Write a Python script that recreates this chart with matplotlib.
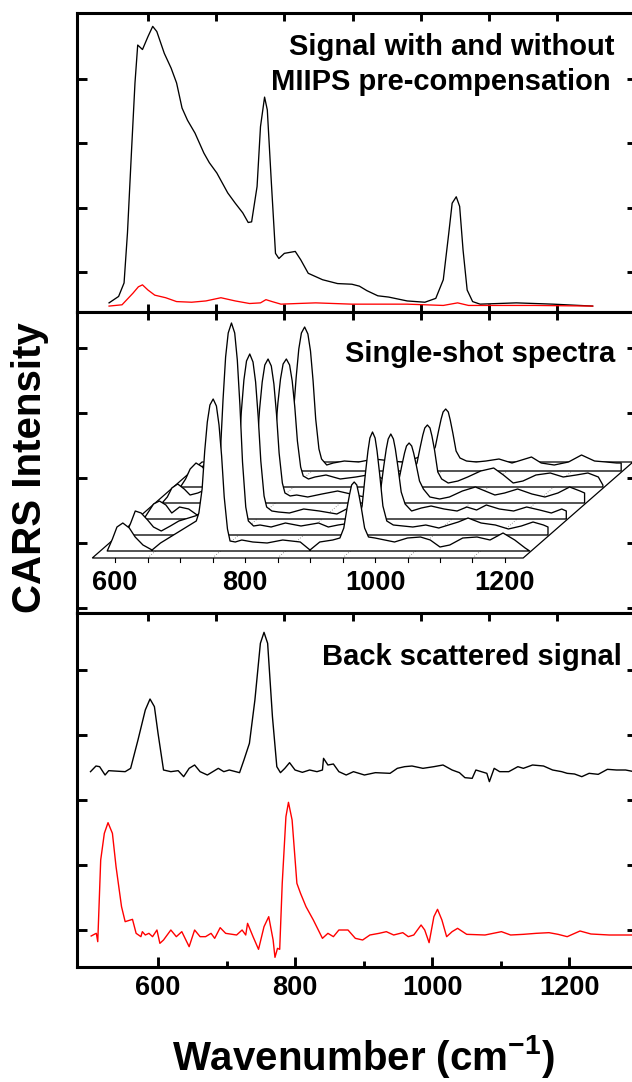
import numpy as np
import matplotlib
matplotlib.use('Agg')
from matplotlib import pyplot as plt
from matplotlib.patches import Polygon

plt.rcParams['font.family'] = ['Liberation Sans', 'DejaVu Sans']
plt.rcParams['font.weight'] = 'bold'
plt.rcParams['mathtext.fontset'] = 'custom'
plt.rcParams['mathtext.rm'] = 'Liberation Sans:bold'
plt.rcParams['mathtext.bf'] = 'Liberation Sans:bold'
plt.rcParams['mathtext.default'] = 'rm'

# top panel: with / without MIIPS
wn_miips = [543, 557, 565, 570, 576, 581, 585, 592, 600, 607, 613, 624, 634, 642, 650, 658, 669, 682, 690, 701,
            717, 728, 739, 747, 752, 760, 765, 771, 775, 781, 787, 792, 800, 816, 824, 835, 856, 878, 899, 910,
            921, 937, 953, 980, 1006, 1022, 1033, 1041, 1046, 1052, 1057, 1062, 1068, 1076, 1087, 1140, 1194, 1252]
int_miips = [0.52, 0.62, 0.83, 1.61, 2.90, 3.94, 4.53, 4.46, 4.66, 4.82, 4.74, 4.40, 4.17, 3.94, 3.55, 3.36, 3.16, 2.85, 2.70, 2.54,
             2.23, 2.07, 1.92, 1.77, 1.78, 2.33, 3.26, 3.72, 3.52, 2.38, 1.29, 1.21, 1.29, 1.32, 1.19, 0.98, 0.88, 0.82, 0.81, 0.78,
             0.71, 0.63, 0.61, 0.55, 0.53, 0.59, 0.88, 1.60, 2.07, 2.17, 2.02, 1.34, 0.72, 0.54, 0.50, 0.52, 0.50, 0.47]
wn_nomiips = [543, 562, 578, 586, 592, 600, 610, 626, 642, 664, 685, 707, 728, 749, 765, 773, 782, 795, 819, 846,
              899, 980, 1033, 1054, 1070, 1167, 1252]
int_nomiips = [0.47, 0.49, 0.67, 0.77, 0.80, 0.72, 0.64, 0.60, 0.54, 0.53, 0.55, 0.60, 0.55, 0.51, 0.52, 0.57, 0.54, 0.50, 0.51, 0.52,
               0.50, 0.50, 0.48, 0.52, 0.48, 0.48, 0.47]

# middle panel: single-shot spectra (6 shots, front to back)
wn_shot = [588, 596, 603, 612, 622, 631, 643, 657, 670, 685, 700, 715, 725, 729, 734, 738, 742, 746, 751, 756,
           760, 764, 768, 773, 777, 785, 795, 812, 834, 858, 885, 900, 915, 935, 946, 952, 957, 961, 964, 968,
           972, 975, 979, 984, 990, 1000, 1015, 1030, 1050, 1070, 1085, 1100, 1115, 1135, 1157, 1177, 1197, 1215, 1231, 1238]
shot1 = [0, 12, 24, 28, 23, 14, 6, 1, 8, 14, 20, 26,
         30, 38, 62, 100, 129, 146, 152, 145, 126, 95, 54, 22, 10,
         9, 11, 9, 8, 11, 9, 1, 9, 11,
         13, 23, 43, 57, 66, 69, 66, 57, 43, 23, 14,
         13, 11, 9, 13, 14, 11, 4, 6, 13, 14, 11, 18, 11, 3, 0]
shot2 = [0, 12, 24, 22, 15, 8, 4, 9, 14, 17, 20, 22,
         28, 41, 83, 135, 178, 202, 212, 202, 175, 130, 73, 28, 14,
         9, 10, 8, 12, 9, 12, 8, 10, 12,
         14, 29, 61, 84, 97, 103, 97, 84, 61, 29, 14,
         10, 9, 8, 10, 7, 10, 13, 17, 12, 10, 6, 9, 13, 10, 8]
shot3 = [0, 8, 15, 18, 14, 6, 12, 10, 4, 10, 16, 20,
         24, 34, 66, 107, 139, 158, 165, 157, 137, 102, 58, 23, 12,
         8, 7, 6, 10, 8, 5, 10, 12, 14,
         15, 27, 52, 70, 80, 85, 80, 70, 52, 27, 15,
         8, 11, 13, 10, 8, 12, 9, 14, 10, 8, 12, 9, 6, 10, 8]
shot4 = [0, 6, 15, 19, 14, 8, 10, 14, 8, 6, 14, 18,
         22, 31, 58, 94, 121, 138, 144, 137, 119, 89, 50, 20, 10,
         7, 8, 6, 9, 12, 8, 6, 10, 14,
         14, 22, 38, 50, 57, 60, 57, 50, 38, 22, 14,
         6, 4, 6, 12, 16, 12, 8, 10, 14, 9, 6, 10, 16, 12, 10]
shot5 = [0, 8, 18, 24, 20, 12, 8, 12, 16, 10, 14, 18,
         21, 29, 53, 84, 108, 123, 128, 122, 106, 80, 46, 20, 11,
         8, 10, 12, 8, 10, 13, 8, 10, 16,
         16, 24, 40, 52, 59, 62, 59, 51, 37, 15, 8,
         4, 6, 10, 16, 19, 12, 4, 6, 12, 14, 10, 12, 14, 10, 2]
shot6 = [0, 6, 14, 20, 18, 10, 8, 10, 14, 12, 16, 20,
         24, 32, 60, 94, 122, 138, 144, 137, 120, 90, 52, 22, 12,
         6, 8, 10, 9, 12, 10, 9, 11, 16,
         16, 24, 40, 52, 59, 62, 59, 51, 38, 20, 13,
         10, 9, 10, 12, 8, 11, 14, 8, 6, 9, 16, 10, 9, 8, 8]
shots = [shot1, shot2, shot3, shot4, shot5, shot6]
shot_dx, shot_dy = 28.15, 16
floor_ticks = [600, 800, 1000, 1200]

# bottom panel: back scattered
wn_back = [501.4, 509.4, 514.7, 522.7, 528.0, 552.0, 560.0, 570.7, 581.4, 588.3, 594.7, 600.0, 608.0, 618.7, 629.4, 637.4,
           645.4, 653.4, 661.4, 672.0, 688.0, 696.0, 704.0, 719.0, 725.4, 733.4, 741.4, 749.4, 754.7, 760.0, 767.0, 773.4,
           778.7, 785.1, 792.0, 800.0, 810.7, 821.3, 832.0, 840.0, 841.6, 848.0, 856.0, 864.0, 874.7, 885.3, 901.3, 917.3,
           938.7, 949.3, 960.0, 970.7, 986.7, 1002.7, 1016.0, 1029.3, 1040.0, 1048.0, 1058.6, 1064.0, 1072.0, 1080.0,
           1083.7, 1090.7, 1098.7, 1112.0, 1125.3, 1133.3, 1146.7, 1162.7, 1176.0, 1189.3, 1197.3, 1208.0, 1218.6,
           1229.3, 1242.6, 1256.0, 1269.3, 1282.6, 1294.9]
int_back = [475, 492, 490, 465, 478, 475, 485, 570, 660, 693, 670, 590, 480, 475, 478, 460,
            485, 495, 475, 465, 485, 475, 480, 472, 510, 560, 690, 860, 893, 860, 640, 490,
            472, 485, 502, 480, 473, 480, 475, 480, 515, 495, 498, 475, 465, 475, 465, 472,
            470, 485, 490, 492, 485, 490, 495, 480, 472, 457, 455, 480, 475, 470,
            445, 485, 475, 475, 490, 485, 495, 492, 480, 475, 470, 468, 460,
            470, 467, 482, 480, 480, 475]
wn_back2 = [502.4, 507.8, 509.9, 512.0, 516.3, 521.6, 527.0, 533.4, 538.7, 546.7, 552.0,
            562.7, 568.0, 575.0, 577.1, 581.4, 586.7, 592.0, 598.4, 602.7,
            608.0, 618.7, 626.7, 634.7, 645.4, 653.4, 661.4, 669.4, 677.4, 682.7,
            690.7, 698.7, 714.7, 722.7, 728.0, 730.7, 738.7, 746.7, 754.7, 761.6,
            768.0, 770.7, 774.4, 777.6, 781.3, 786.7, 790.4, 795.7, 802.7, 808.0,
            816.0, 826.7, 840.0, 848.0, 856.0, 864.0, 877.3, 888.0, 898.7, 909.3,
            922.7, 933.3, 944.0, 957.3, 965.3, 973.3, 984.0, 989.3, 995.7, 1002.7,
            1008.0, 1014.4, 1021.3, 1029.3, 1037.3, 1050.6, 1077.3, 1101.3, 1114.7, 1133.3,
            1152.0, 1170.7, 1184.0, 1197.3, 1216.0, 1232.0, 1258.7, 1294.9]
int_back2 = [-18, -12, -10, -35, 210, 290, 322, 290, 190, 70, 25,
             32, -10, -20, -5, -15, -10, -20, 0, -40,
             -30, 0, -20, -5, -50, 0, -20, -20, -10, -25,
             7, -10, -15, 0, -15, 20, -20, -58, 10, 40,
             -30, -82, -55, -58, 140, 340, 383, 330, 140, 110,
             70, 30, -25, -10, -20, 0, 0, -25, -30, -15,
             -10, -5, -15, -8, -20, -15, 15, 0, -38, 40,
             62, 30, -20, -5, 5, -13, -15, -5, -15, -13,
             -10, -8, -13, -20, -3, -12, -15, -15]

fig = plt.figure(figsize=(6.32, 10.82), dpi=100)
L, W = 77 / 632, 560 / 632
ax1 = fig.add_axes([L, 1 - 312 / 1082, W, 299 / 1082])
ax2 = fig.add_axes([L, 1 - 613 / 1082, W, 301 / 1082])
ax3 = fig.add_axes([L, 1 - 967 / 1082, W, 354 / 1082])
ax3t = ax3.twiny()
ax2w = fig.add_axes([L, 1 - 613 / 1082, W, 301 / 1082])


def frame(ax, yt):
    for s in ax.spines.values():
        s.set_linewidth(2.2)
    ax.set_yticks(yt)
    ax.tick_params(axis='both', which='both', direction='in', width=2.1,
                   labelbottom=False, labelleft=False, labeltop=False, labelright=False)
    ax.tick_params(axis='y', left=True, right=True, length=7.2)


top_ticks = np.arange(600, 1300, 100)

# panel 1
ax1.plot(wn_miips, int_miips, color='black', lw=0.95)
ax1.plot(wn_nomiips, int_nomiips, color='red', lw=0.95)
ax1.set_xlim(496, 1317)
ax1.set_ylim(0.378, 5.028)
frame(ax1, [1, 2, 3, 4])
ax1.set_xticks(top_ticks)
ax1.tick_params(axis='x', top=True, bottom=True, length=5.8)
ax1.text(0.959, 0.8595, 'Signal with and without', transform=ax1.transAxes,
         ha='right', va='baseline', fontsize=21, fontweight='bold')
ax1.text(0.9536, 0.7425, 'MIIPS pre-compensation', transform=ax1.transAxes,
         ha='right', va='baseline', fontsize=21, fontweight='bold')

# panel 2 frame
ax2.set_xlim(496, 1317)
ax2.set_ylim(-0.077, 4.554)
frame(ax2, [0, 1, 2, 3, 4])
ax2.set_xticks(top_ticks)
ax2.tick_params(axis='x', top=True, bottom=False, length=5.8)

# panel 2 waterfall
ax2w.set_xlim(541.5, 1403.1)
ax2w.set_ylim(-62, 239)
ax2w.axis('off')
n = len(shots)
fx0, fx1, fy = 565, 1228, -7
floor = Polygon([(fx0, fy), (fx1, fy), (fx1 + n * shot_dx, fy + n * shot_dy), (fx0 + n * shot_dx, fy + n * shot_dy)],
                closed=True, facecolor='white', edgecolor='black', lw=0.9, zorder=1)
ax2w.add_patch(floor)
for g in range(650, 1200, 100):
    ax2w.plot([g, g + n * shot_dx], [fy, fy + n * shot_dy], ls=(0, (1, 2)), color='0.45', lw=0.6, zorder=2)
for g in range(600, 1250, 50):
    ax2w.plot([g, g], [fy, fy - 4], color='black', lw=0.8, zorder=2)
for t in floor_ticks:
    ax2w.text(t, -32, str(t), ha='center', va='center', fontsize=19.5, fontweight='bold')

x0 = np.array(wn_shot, dtype=float)
for k in range(n - 1, -1, -1):
    xs = x0 + k * shot_dx
    ys = np.array(shots[k], dtype=float) + k * shot_dy
    verts = list(zip(xs, ys)) + [(xs[-1], k * shot_dy), (xs[0], k * shot_dy)]
    ax2w.add_patch(Polygon(verts, closed=True, facecolor='white', edgecolor='black',
                           lw=0.95, joinstyle='round', zorder=10 + (n - k)))
ax2w.text(0.9607, 0.834, 'Single-shot spectra', transform=ax2w.transAxes,
          ha='right', va='baseline', fontsize=21, fontweight='bold')

# panel 3
ax3.plot(wn_back, int_back, color='black', lw=1.0)
ax3.plot(wn_back2, int_back2, color='red', lw=1.0)
ax3.set_xlim(481.7, 1299.2)
ax3.set_ylim(-111, 951)
frame(ax3, [0, 195, 390, 585, 780])
ax3.set_xticks([600, 800, 1000, 1200])
ax3.set_xticks([700, 900, 1100], minor=True)
ax3.tick_params(axis='x', which='major', top=False, bottom=True, length=7.2,
                labelbottom=True, labelsize=19.5, pad=6)
ax3.tick_params(axis='x', which='minor', top=False, bottom=True, length=4.3)
for lab in ax3.get_xticklabels():
    lab.set_fontweight('bold')
ax3t.set_xlim(496, 1317)
ax3t.set_xticks(top_ticks)
ax3t.tick_params(axis='x', direction='in', top=True, length=5.8, width=2.1, labeltop=False)
for s in ax3t.spines.values():
    s.set_visible(False)
ax3.text(0.973, 0.853, 'Back scattered signal', transform=ax3.transAxes,
         ha='right', va='baseline', fontsize=21, fontweight='bold')

fig.text(30 / 632, 1 - 468 / 1082, 'CARS Intensity', rotation=90, ha='center', va='center',
         fontsize=29, fontweight='bold')
fig.text(363 / 632, 1 - 1070 / 1082, r'Wavenumber (cm$^{-1}$)', ha='center', va='baseline',
         fontsize=29, fontweight='bold')

fig.savefig('out.png', dpi=100)
